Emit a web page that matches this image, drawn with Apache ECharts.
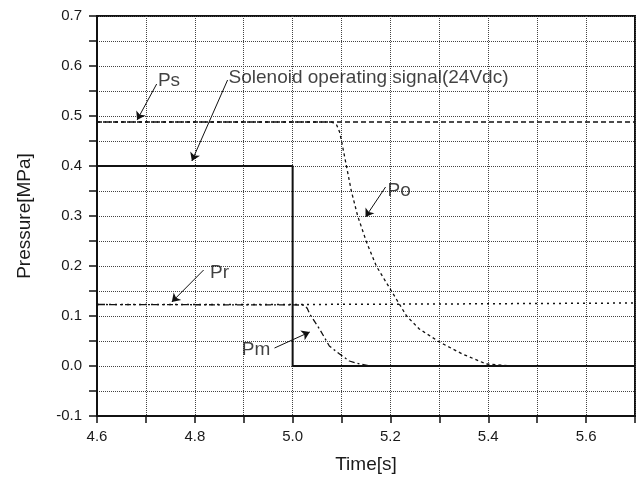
<!DOCTYPE html>
<html>
<head>
<meta charset="utf-8">
<script src="https://cdn.jsdelivr.net/npm/echarts@6/dist/echarts.min.js"></script>
<style>html,body{margin:0;padding:0;background:#fff}#c{width:638px;height:479px}</style>
</head>
<body>
<div id="c"></div>
<script>
// ---- data ----
const signal = [[4.6,0.4],[5.0,0.4],[5.0,0],[5.7,0]];
const ps = [[4.6,0.488],[5.0,0.488],[5.3,0.488],[5.7,0.488]];
const po = [[4.6,0.488],[5.08,0.488],[5.09,0.482],[5.096,0.468],[5.1,0.45],[5.11,0.4],[5.12,0.35],[5.133,0.3],[5.151,0.248],[5.171,0.2],[5.202,0.15],[5.233,0.1],[5.259,0.074],[5.3,0.048],[5.347,0.024],[5.396,0.004],[5.45,0],[5.7,0]];
const pr = [[4.6,0.123],[5.0,0.123],[5.3,0.124],[5.7,0.126]];
const pm = [[4.6,0.123],[5.024,0.122],[5.03,0.115],[5.035,0.104],[5.055,0.074],[5.075,0.04],[5.096,0.024],[5.116,0.01],[5.137,0.004],[5.16,0],[5.7,0]];
// annotations: text anchor and arrow (tail -> tip) in data units
const annoText = ['Ps','Solenoid operating signal(24Vdc)','Po','Pr','Pm'];
const annoPos = [[4.7245,0.57],[4.869,0.576],[5.194,0.35],[4.831,0.186],[4.896,0.032]];
const arrowTail = [[4.722,0.564],[4.867,0.572],[5.19,0.358],[4.818,0.192],[4.963,0.036]];
const arrowTip = [[4.682,0.492],[4.794,0.41],[5.149,0.298],[4.753,0.128],[5.035,0.068]];
const xTicks = {min:4.6,max:5.7,step:0.1};
const yTicks = {min:-0.1,max:0.7,step:0.05};

const FONT = 'Liberation Sans, Arial, sans-serif';
const chart = echarts.init(document.getElementById('c'));
const gridLine = {show:true,lineStyle:{color:'#444',width:1,type:[1,1]}};
const arrows = arrowTail.map((t,i)=>[{coord:t},{coord:arrowTip[i]}]);
chart.setOption({
  animation:false,
  backgroundColor:'#fff',
  grid:{left:97,right:1.5,top:16,bottom:62,show:true,borderColor:'#111',borderWidth:2,backgroundColor:'transparent'},
  xAxis:{type:'value',min:xTicks.min,max:xTicks.max,interval:xTicks.step,
    name:'Time[s]',nameLocation:'middle',nameGap:39,
    nameTextStyle:{fontFamily:FONT,fontSize:19,color:'#1a1a1a'},
    axisLine:{show:true,onZero:false,lineStyle:{color:'#111',width:2}},
    axisTick:{show:true,inside:false,length:7,lineStyle:{color:'#111',width:1.5}},
    axisLabel:{fontFamily:FONT,fontSize:15,color:'#1a1a1a',margin:13,
      formatter:v=>{const k=Math.round(v*10);return k%2===0?(k/10).toFixed(1):'';}},
    splitLine:gridLine},
  yAxis:{type:'value',min:yTicks.min,max:yTicks.max,interval:yTicks.step,
    name:'Pressure[MPa]',nameLocation:'middle',nameGap:63,
    nameTextStyle:{fontFamily:FONT,fontSize:19,color:'#1a1a1a'},
    axisLine:{show:true,onZero:false,lineStyle:{color:'#111',width:2}},
    axisTick:{show:true,inside:false,length:8,lineStyle:{color:'#111',width:1.5}},
    axisLabel:{fontFamily:FONT,fontSize:15,color:'#1a1a1a',margin:15,
      formatter:v=>{const k=Math.round(v*20);return k%2===0?(k/20).toFixed(1):'';}},
    splitLine:gridLine},
  series:[
    {name:'Ps',type:'line',data:ps,symbol:'none',lineStyle:{color:'#111',width:1.5,type:[5,3]}},
    {name:'Po',type:'line',data:po,symbol:'none',lineStyle:{color:'#111',width:1.3,type:[3,3]}},
    {name:'Pr',type:'line',data:pr,symbol:'none',lineStyle:{color:'#111',width:1.5,type:[2,4]}},
    {name:'Pm',type:'line',data:pm,symbol:'none',lineStyle:{color:'#111',width:1.3,type:[6,3,2,3]}},
    {name:'Signal',type:'line',data:signal,symbol:'none',lineStyle:{color:'#111',width:2},z:5,
      markLine:{silent:true,symbol:['none','arrow'],symbolSize:8,label:{show:false},
        lineStyle:{color:'#111',width:1,type:'solid'},itemStyle:{color:'#111'},data:arrows}},
    {name:'labels',type:'scatter',symbolSize:0,z:6,
      data:annoPos.map((p,i)=>({value:p,label:{formatter:annoText[i]}})),
      label:{show:true,position:'right',distance:0,fontFamily:FONT,fontSize:19,color:'#111'}}
  ]
});
</script>
</body>
</html>
